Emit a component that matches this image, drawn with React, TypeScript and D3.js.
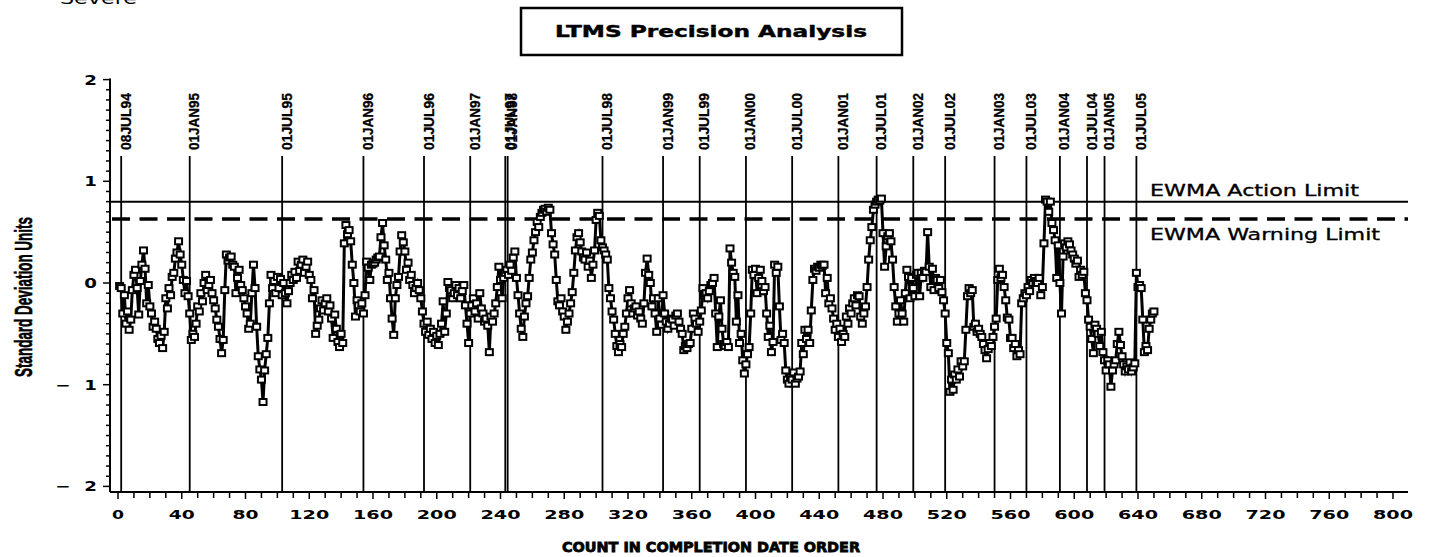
import React from 'react';
import * as d3 from 'd3';

// EWMA values, counts 1..650 in completion date order
const ewma: number[] = [
  -0.03,-0.05,-0.30,-0.12,-0.40,-0.28,-0.46,-0.36,-0.07,0.08,
  0.13,-0.05,-0.31,0.02,0.18,0.32,0.14,-0.20,-0.02,-0.23,
  -0.30,-0.43,-0.38,-0.45,-0.55,-0.59,-0.52,-0.64,-0.48,-0.15,
  -0.25,-0.05,-0.12,0.06,0.10,0.24,0.30,0.41,0.28,0.18,
  0.03,-0.10,0.02,-0.13,-0.30,-0.56,-0.50,-0.53,-0.40,-0.23,
  -0.28,-0.10,-0.18,0.00,0.08,-0.07,-0.02,0.03,-0.10,-0.17,
  -0.25,-0.36,-0.43,-0.55,-0.69,-0.56,-0.07,0.28,0.22,0.25,
  0.26,0.18,0.16,-0.10,0.05,0.13,-0.02,-0.07,-0.15,-0.23,
  -0.30,-0.45,-0.40,-0.10,0.18,-0.05,-0.43,-0.72,-0.85,-0.95,
  -1.17,-0.86,-0.70,-0.54,-0.20,0.08,-0.05,0.02,-0.10,0.06,
  -0.05,0.04,-0.12,0.00,-0.10,-0.20,-0.08,0.00,0.08,0.03,
  0.11,0.05,0.21,0.12,0.18,0.23,0.10,0.16,0.21,0.08,
  0.03,-0.15,-0.07,-0.50,-0.42,-0.36,-0.25,-0.17,-0.27,-0.20,
  -0.15,-0.28,-0.22,-0.35,-0.54,-0.31,-0.45,-0.58,-0.63,-0.50,
  -0.59,0.39,0.57,0.48,0.52,0.41,0.18,0.00,-0.33,-0.17,
  -0.22,-0.28,-0.20,-0.30,-0.12,0.21,0.15,0.03,0.18,0.19,
  0.20,0.23,0.25,0.26,0.45,0.59,0.37,0.23,0.03,0.10,
  -0.15,-0.35,-0.51,-0.15,-0.02,0.06,0.31,0.47,0.40,0.31,
  0.13,0.20,0.03,0.08,-0.02,-0.10,-0.05,0.00,-0.07,-0.15,
  -0.28,-0.40,-0.48,-0.38,-0.51,-0.45,-0.55,-0.48,-0.59,-0.52,
  -0.61,-0.50,-0.40,-0.18,-0.48,-0.30,0.01,-0.05,-0.07,-0.15,
  -0.10,-0.02,-0.12,-0.05,-0.15,-0.08,-0.02,-0.22,-0.40,-0.59,
  -0.30,-0.22,-0.15,-0.28,-0.20,-0.35,-0.10,-0.25,-0.30,-0.38,
  -0.35,-0.42,-0.68,-0.33,-0.38,-0.30,-0.20,-0.04,0.16,0.03,
  -0.15,0.05,0.10,0.13,0.08,0.18,0.12,0.25,0.31,0.05,
  -0.12,-0.30,-0.45,-0.53,-0.33,-0.20,-0.13,0.05,0.23,0.30,
  0.42,0.50,0.60,0.55,0.65,0.69,0.72,0.73,0.70,0.74,
  0.72,0.49,0.38,0.28,0.03,-0.18,-0.22,-0.15,-0.28,-0.33,
  -0.46,-0.38,-0.30,-0.20,-0.09,0.10,0.32,0.45,0.49,0.40,
  0.31,0.25,0.23,0.30,0.16,0.22,0.05,0.18,0.32,0.62,
  0.69,0.66,0.42,0.35,0.32,0.28,0.23,-0.05,-0.15,-0.28,
  -0.36,-0.50,-0.62,-0.68,-0.60,-0.63,-0.50,-0.43,-0.30,-0.15,
  -0.07,-0.20,-0.30,-0.25,-0.23,-0.32,-0.28,-0.35,-0.40,-0.20,
  0.10,0.24,0.08,0.00,-0.23,-0.15,-0.30,-0.48,-0.15,-0.35,
  -0.41,-0.12,-0.30,-0.38,-0.45,-0.40,-0.35,-0.36,-0.42,-0.32,
  -0.30,-0.38,-0.45,-0.50,-0.66,-0.62,-0.64,-0.60,-0.59,-0.45,
  -0.30,-0.35,-0.40,-0.48,-0.38,-0.27,-0.05,-0.12,-0.10,-0.15,
  -0.08,-0.02,0.00,0.05,-0.30,-0.63,-0.33,-0.17,-0.45,-0.60,
  -0.62,-0.58,-0.63,0.34,0.20,0.10,0.06,-0.38,-0.12,-0.59,
  -0.50,-0.76,-0.89,-0.80,-0.70,-0.63,-0.30,0.13,0.08,0.14,
  -0.10,0.05,0.13,0.02,-0.08,-0.04,-0.30,-0.53,-0.42,-0.68,
  -0.58,0.18,0.10,0.16,-0.23,-0.56,-0.50,-0.59,-0.86,-0.95,
  -0.99,-0.93,-0.95,-0.88,-0.99,-0.94,-0.92,-0.87,-0.59,-0.70,
  -0.46,-0.55,-0.46,-0.59,-0.27,0.03,0.14,0.12,0.16,0.15,
  0.18,0.17,0.18,-0.10,0.05,-0.20,-0.15,-0.25,-0.35,-0.46,
  -0.40,-0.53,-0.45,-0.58,-0.50,-0.53,-0.33,-0.40,-0.25,-0.30,
  -0.20,-0.15,-0.22,-0.12,-0.13,-0.33,-0.40,-0.30,-0.23,-0.04,
  0.23,0.42,0.55,0.72,0.77,0.80,0.82,0.81,0.83,0.49,
  0.16,0.36,0.46,0.49,0.41,0.23,-0.04,-0.23,-0.38,-0.30,
  -0.17,-0.30,-0.38,-0.10,0.13,0.06,-0.15,0.05,-0.05,-0.13,
  0.08,0.10,-0.13,0.10,0.05,0.12,0.11,0.50,0.16,-0.04,
  0.14,-0.07,0.05,0.03,-0.05,0.03,-0.09,-0.17,-0.30,-0.59,
  -0.69,-1.07,-0.95,-1.05,-0.90,-0.95,-0.85,-0.92,-0.77,-0.82,
  -0.77,-0.46,-0.13,-0.05,-0.10,-0.07,-0.43,-0.40,-0.48,-0.45,
  -0.50,-0.53,-0.60,-0.66,-0.74,-0.65,-0.59,-0.62,-0.53,-0.43,
  -0.35,0.03,0.14,0.05,0.08,-0.04,-0.17,-0.34,-0.36,-0.54,
  -0.54,-0.64,-0.60,-0.72,-0.66,-0.70,-0.20,-0.15,-0.10,-0.12,
  -0.04,-0.08,0.03,0.00,0.05,0.02,0.00,0.05,-0.12,-0.04,
  0.39,0.82,0.80,0.70,0.80,0.59,0.52,0.42,0.05,0.37,
  0.00,-0.30,0.26,0.39,0.35,0.41,0.38,0.32,0.28,0.24,
  0.19,0.22,0.06,0.13,0.08,0.11,-0.10,-0.17,-0.36,-0.43,
  -0.55,-0.69,-0.41,-0.45,-0.50,-0.62,-0.48,-0.68,-0.76,-0.86,
  -0.76,-0.80,-1.02,-0.86,-0.80,-0.76,-0.60,-0.48,-0.61,-0.72,
  -0.80,-0.87,-0.82,-0.85,-0.78,-0.87,-0.83,-0.79,0.10,-0.04,
  -0.02,-0.05,-0.36,-0.68,-0.62,-0.66,-0.45,-0.36,-0.30,-0.28,
];

const dateLabels = [
  '08JUL94','01JAN95','01JUL95','01JAN96','01JUL96','01JAN97','01JUL97','01JAN98',
  '01JUL98','01JAN99','01JUL99','01JAN00','01JUL00','01JAN01','01JUL01','01JAN02',
  '01JUL02','01JAN03','01JUL03','01JAN04','01JUL04','01JAN05','01JUL05',
];
const dateCounts = [
  2, 45, 103, 154, 192, 221, 243, 244.5,
  304, 342, 365, 394, 423, 452, 476, 499,
  519, 550, 570, 591, 608, 619, 639,
];

const xTickValues = d3.range(0, 801, 40);
const xMinorValues = d3.range(0, 801, 10);
const yTickValues = [-2, -1, 0, 1, 2];
const yTickLabels = ['\u22122', '\u22121', '0', '1', '2'];
const yMinorValues = d3.range(-20, 21, 1).map((d) => d / 10);

const actionLimit = 0.8;
const warningLimit = 0.63;

export default function App() {
  const W = 1452;
  const H = 557;
  const x = d3.scaleLinear().domain([0, 800]).range([118, 1393]);
  const y = d3.scaleLinear().domain([-2, 2]).range([486.4, 79.6]);
  const axisLeft = 110;
  const axisBottom = 492;
  const axisRight = 1408;

  const pts: [number, number][] = ewma.map((v, i) => [x(i + 1), y(v)]);
  const path = d3.line()(pts) || '';

  const wide = '"DejaVu Sans", sans-serif';
  const narrow = '"Liberation Sans", Arial, sans-serif';

  return (
    <svg
      width={W}
      height={H}
      viewBox={`0 0 ${W} ${H}`}
      style={{ position: 'absolute', left: 0, top: 0, background: '#fff' }}
    >
      <rect x={0} y={0} width={W} height={H} fill="#fff" />

      {/* Severe (partially cut at the top, as in the reference) */}
      <text x={60} y={4} fontFamily={wide} fontSize={15} textLength={77} lengthAdjust="spacingAndGlyphs">Severe</text>

      {/* Title box */}
      <rect x={521} y={8} width={381} height={47} fill="#fff" stroke="#000" strokeWidth={2.5} />
      <text x={711} y={37} textAnchor="middle" fontFamily={wide} fontWeight="bold" fontSize={15}
        stroke="#000" strokeWidth={0.4}
        textLength={312} lengthAdjust="spacingAndGlyphs">LTMS Precision Analysis</text>

      {/* Y axis title */}
      <text transform="translate(32,297) rotate(-90)" textAnchor="middle" fontFamily={narrow}
        fontWeight="bold" fontSize={24} stroke="#000" strokeWidth={0.6}
        textLength={160} lengthAdjust="spacingAndGlyphs">Standard Deviation Units</text>

      {/* Reference (date) lines */}
      {dateCounts.map((c, i) => (
        <g key={'d' + i}>
          <line x1={x(c)} x2={x(c)} y1={156} y2={axisBottom} stroke="#000" strokeWidth={1.8} />
          <text transform={`translate(${x(c) + 9.5},150) rotate(-90)`} fontFamily={narrow}
            fontWeight="bold" fontSize={14} stroke="#000" strokeWidth={0.3}
            textLength={57} lengthAdjust="spacingAndGlyphs">{dateLabels[i]}</text>
        </g>
      ))}

      {/* Limits */}
      <line x1={axisLeft} x2={axisRight} y1={y(actionLimit)} y2={y(actionLimit)} stroke="#000" strokeWidth={2} />
      <line x1={axisLeft + 2} x2={axisRight} y1={y(warningLimit)} y2={y(warningLimit)} stroke="#000"
        strokeWidth={3.5} strokeDasharray="18 9.5" />
      <text x={1150} y={196} fontFamily={wide} fontSize={15} stroke="#000" strokeWidth={0.3}
        textLength={209} lengthAdjust="spacingAndGlyphs">EWMA Action Limit</text>
      <text x={1150} y={240} fontFamily={wide} fontSize={15} stroke="#000" strokeWidth={0.3}
        textLength={230} lengthAdjust="spacingAndGlyphs">EWMA Warning Limit</text>

      {/* Data */}
      <path d={path} fill="none" stroke="#000" strokeWidth={3} strokeLinejoin="miter" />
      {pts.map((p, i) => (
        <rect key={'m' + i} x={p[0] - 3.5} y={p[1] - 3} width={7} height={6} fill="#fff" stroke="#000" strokeWidth={2} />
      ))}

      {/* Axes */}
      <line x1={axisLeft} x2={axisLeft} y1={y(2) - 1} y2={axisBottom} stroke="#000" strokeWidth={2} />
      <line x1={axisLeft} x2={axisRight} y1={axisBottom} y2={axisBottom} stroke="#000" strokeWidth={2} />

      {yMinorValues.map((v, i) => (
        <line key={'ym' + i} x1={axisLeft - (Number.isInteger(v) ? 7 : 4)} x2={axisLeft} y1={y(v)} y2={y(v)}
          stroke="#000" strokeWidth={1.5} />
      ))}
      {yTickValues.map((v, i) => (
        <text key={'yl' + i} transform={`translate(97,${y(v) + 5}) scale(1.3,1)`} textAnchor="end"
          fontFamily={wide} fontSize={14} fontWeight="bold"
          textLength={yTickLabels[i].length > 1 ? 32 : undefined}
          lengthAdjust={yTickLabels[i].length > 1 ? 'spacing' : undefined}>{yTickLabels[i]}</text>
      ))}

      {xMinorValues.map((v, i) => (
        <line key={'xm' + i} x1={x(v)} x2={x(v)} y1={axisBottom} y2={axisBottom + (v % 40 === 0 ? 7 : 6)}
          stroke="#000" strokeWidth={1.5} />
      ))}
      {xTickValues.map((v, i) => {
        const s = String(v);
        return (
          <text key={'xl' + i} x={x(v)} y={519} textAnchor="middle" fontFamily={wide} fontSize={13}
            fontWeight="bold" textLength={14 * s.length - 2} lengthAdjust="spacingAndGlyphs">{s}</text>
        );
      })}

      {/* X axis title */}
      <text x={711} y={552} textAnchor="middle" fontFamily={wide} fontWeight="bold" fontSize={14}
        stroke="#000" strokeWidth={0.8}
        textLength={298} lengthAdjust="spacingAndGlyphs">COUNT IN COMPLETION DATE ORDER</text>
    </svg>
  );
}
